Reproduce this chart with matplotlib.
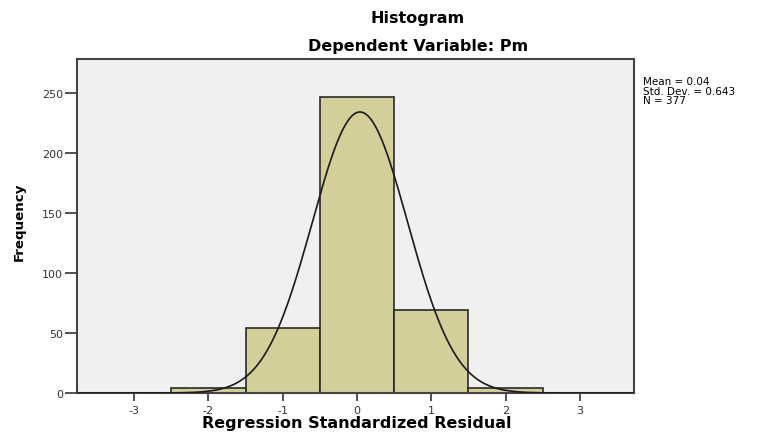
# SPSS-style residual histogram with normal curve overlay
import numpy as np
import matplotlib
matplotlib.use('Agg')
import matplotlib.pyplot as plt

# dados
bin_centers = [-2, -1, 0, 1, 2]
counts = [4, 54, 246, 69, 4]
bin_width = 1.0
mean = 0.04
std = 0.643
n = 377
x_ticks = [-3, -2, -1, 0, 1, 2, 3]
y_ticks = [0, 50, 100, 150, 200, 250]

plt.rcParams['font.family'] = ['DejaVu Sans']
plt.rcParams['axes.unicode_minus'] = False

fig = plt.figure(figsize=(7.57, 4.35), dpi=100)
ax = fig.add_axes([77 / 757, 41 / 435, 557 / 757, 334 / 435])
ax.set_facecolor('#f0f0f0')

ax.bar(bin_centers, counts, width=bin_width, color='#d3cf98',
       edgecolor='#2a2a2a', linewidth=1.2, zorder=2)

# curva normal ajustada
xs = np.linspace(-3.77, 3.73, 400)
pdf = n * bin_width / (std * np.sqrt(2 * np.pi)) * np.exp(-0.5 * ((xs - mean) / std) ** 2)
ax.plot(xs, pdf, color='#1a1a1a', linewidth=1.2, zorder=3)

ax.set_xlim(-3.77, 3.73)
ax.set_ylim(0, 278)
ax.set_xticks(x_ticks)
ax.set_yticks(y_ticks)
ax.tick_params(axis='both', labelsize=8, colors='#333333', width=1.2)
ax.tick_params(axis='x', length=6, pad=3)
ax.tick_params(axis='y', length=9, pad=1)
for side in ax.spines.values():
    side.set_color('#444444')
    side.set_linewidth(1.5)

ax.set_xlabel('Regression Standardized Residual', fontsize=11.5, fontweight='bold')
ax.xaxis.label.set_va('center')
ax.xaxis.set_label_coords(0.503, -0.087)
ax.set_ylabel('Frequency', fontsize=9.6, fontweight='bold')
ax.yaxis.label.set_va('center')
ax.yaxis.set_label_coords(-0.103, 0.515)

fig.text(418 / 757, 1 - 18 / 435, 'Histogram', ha='center', va='center',
         fontsize=11.5, fontweight='bold')
fig.text(418 / 757, 1 - 47 / 435, 'Dependent Variable: Pm', ha='center', va='center',
         fontsize=11.5, fontweight='bold')

fig.text(643 / 757, 1 - 77 / 435,
         'Mean = %.2f\nStd. Dev. = %.3f\nN = %d' % (mean, std, n),
         ha='left', va='top', fontsize=7.5, linespacing=0.95)

plt.savefig('out.png', dpi=100)
